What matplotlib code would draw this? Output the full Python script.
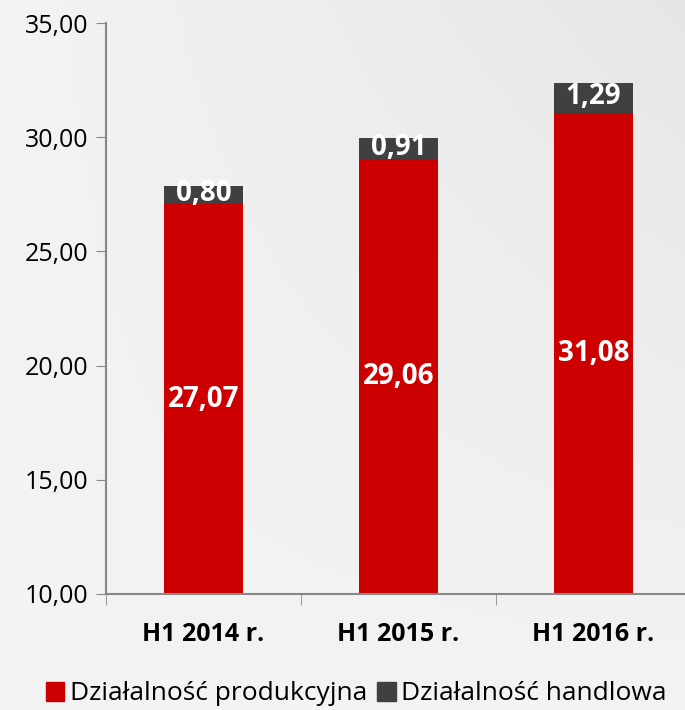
import numpy as np
import matplotlib.pyplot as plt
from matplotlib.patches import Patch

categories = ["H1 2014 r.", "H1 2015 r.", "H1 2016 r."]
produkcja = [27.07, 29.06, 31.08]
handel = [0.80, 0.91, 1.29]
yticks = [10, 15, 20, 25, 30, 35]

red = "#cc0000"
dark = "#404040"

plt.rcParams['font.family'] = ['Open Sans', 'DejaVu Sans']

fig = plt.figure(figsize=(6.85, 7.1), dpi=100)
fig.patch.set_facecolor("#efefef")

# subtle background gradient (lighter bottom-left, darker top-right)
bg = fig.add_axes([0, 0, 1, 1], zorder=-10)
gx, gy = np.meshgrid(np.linspace(0, 1, 200), np.linspace(0, 1, 200))
bg.imshow(0.95 - 0.05 * gx * gy, cmap="gray", vmin=0, vmax=1, aspect="auto",
          extent=[0, 1, 0, 1], origin="lower")
bg.axis("off")

ax = fig.add_axes([106 / 685, 116 / 710, 585 / 685, 571 / 710])
ax.set_facecolor("none")

x = np.arange(len(categories))
w = 0.405
base = 10
ax.bar(x, np.array(produkcja) - base, w, bottom=base, color=red, zorder=2)
ax.bar(x, handel, w, bottom=produkcja, color=dark, zorder=2)

for i in range(len(x)):
    ax.text(x[i], (base + produkcja[i]) / 2, f"{produkcja[i]:.2f}".replace(".", ","),
            ha="center", va="center", color="white", fontsize=20, fontweight="bold")
    ax.text(x[i], produkcja[i] + handel[i] / 2 + 0.05, f"{handel[i]:.2f}".replace(".", ","),
            ha="center", va="center", color="white", fontsize=20, fontweight="bold")

ax.set_xlim(-0.5, 2.5)
ax.set_ylim(10, 35)
ax.set_yticks(yticks)
ax.set_yticklabels([f"{v:.2f}".replace(".", ",") for v in yticks], fontsize=18)
ax.set_xticks(x)
ax.set_xticklabels(categories, fontsize=18, fontweight="bold")
ax.tick_params(axis="x", length=0, pad=20)
ax.set_xticks([-0.5, 0.5, 1.5], minor=True)
ax.tick_params(axis="x", which="minor", length=8, color="#888888")
ax.tick_params(axis="y", length=7, color="#888888", pad=6)

for s in ["top", "right"]:
    ax.spines[s].set_visible(False)
for s in ["left", "bottom"]:
    ax.spines[s].set_color("#888888")
    ax.spines[s].set_linewidth(1.5)

handles = [Patch(color=red, label="Działalność produkcyjna"),
           Patch(color=dark, label="Działalność handlowa")]
fig.legend(handles=handles, loc="center", bbox_to_anchor=(0.52, 16 / 710), ncol=2,
           frameon=False, fontsize=19, handlelength=0.7, handleheight=0.7,
           handletextpad=0.2, columnspacing=0.4)

fig.savefig("out.png", dpi=100, facecolor=fig.get_facecolor())
